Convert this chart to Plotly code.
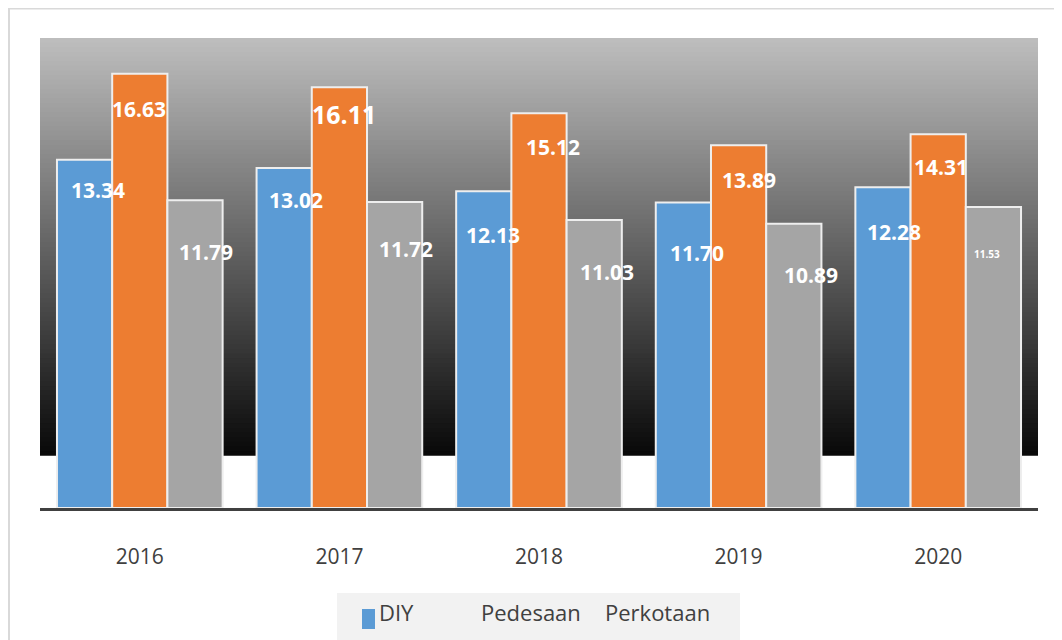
import plotly.graph_objects as go

years = ["2016", "2017", "2018", "2019", "2020"]
diy = [13.34, 13.02, 12.13, 11.70, 12.28]
pedesaan = [16.63, 16.11, 15.12, 13.89, 14.31]
perkotaan = [11.79, 11.72, 11.03, 10.89, 11.53]
series_names = ["DIY", "Pedesaan", "Perkotaan"]

colors = ["#5b9bd5", "#ed7d31", "#a5a5a5"]

# label style tweaks (pixel offsets and font sizes), kept separate from data
label_dx = [[13, 12, 9, 14, 11], [-1, 5, 14, 10, 3], [11, 11, 13, 17, -6]]
label_dy = [[30, 32, 44, 50, 45], [35, 27, 34, 35, 33], [52, 47, 52, 51, 47]]
label_size = [[21, 21, 21, 21, 21], [21, 25, 21, 21, 21], [21, 21, 21, 21, 10]]

FONT = "Open Sans"
W, H = 1054, 632          # page adds an 8px body margin
L, R, T, B = 32, 24, 30, 132
PW, PH = W - L - R, H - T - B
BARGAP = 0.17

def px_x(x):  # figure pixel -> paper x
    return (x - L) / PW

def px_y(y):  # figure pixel -> paper y
    return (H - B - y) / PH

pos = list(range(len(years)))
fig = go.Figure()
all_series = [diy, pedesaan, perkotaan]
for name, vals, c in zip(series_names, all_series, colors):
    fig.add_trace(go.Bar(
        x=pos, y=vals, name=name,
        marker=dict(color=c, line=dict(color="#eeeeee", width=2)),
        showlegend=False,
    ))

bar_w = (1 - BARGAP) / 3
annotations = []
for j, vals in enumerate(all_series):
    for i, v in enumerate(vals):
        annotations.append(dict(
            x=pos[i] + (j - 1) * bar_w, y=v, xref="x", yref="y",
            text=f"<b>{v:.2f}</b>", showarrow=False,
            xshift=label_dx[j][i], yshift=-label_dy[j][i],
            font=dict(family=FONT, size=label_size[j][i], color="white"),
        ))

# legend (custom)
for txt, px in zip(series_names, [369, 471, 595]):
    annotations.append(dict(
        x=px_x(px), y=px_y(604), xref="paper", yref="paper",
        text=txt, showarrow=False, xanchor="left", yanchor="middle",
        font=dict(family=FONT, size=22, color="#404040"),
    ))

shapes = []
# gradient background: gray at top to black at bottom (overlapping strips)
N = 90
ylo, yhi = 2.0, 18.0
step = (yhi - ylo) / N
top_c, bot_c = 190, 8
for k in range(N):
    y0 = ylo + step * k
    y1 = min(yhi, y0 + 2 * step)
    t = (k + 0.5) / N
    g = int(round(bot_c + (top_c - bot_c) * t))
    shapes.append(dict(type="rect", xref="paper", yref="y", x0=0, x1=1, y0=y0, y1=y1,
                       fillcolor=f"rgb({g},{g},{g})", line=dict(width=0), layer="below"))

# outer frame
shapes.append(dict(type="rect", xref="paper", yref="paper",
                   x0=px_x(1), x1=px_x(1070), y0=px_y(650), y1=px_y(0.5),
                   line=dict(color="#d9d9d9", width=2), fillcolor="rgba(0,0,0,0)", layer="below"))
# legend box
shapes.append(dict(type="rect", xref="paper", yref="paper",
                   x0=px_x(329), x1=px_x(732), y0=px_y(640), y1=px_y(585),
                   line=dict(width=0), fillcolor="#f2f2f2", layer="below"))
# legend marker for DIY
shapes.append(dict(type="rect", xref="paper", yref="paper",
                   x0=px_x(354), x1=px_x(367), y0=px_y(621), y1=px_y(601),
                   line=dict(width=0), fillcolor=colors[0], layer="above"))

fig.update_layout(
    width=W, height=H,
    margin=dict(l=L, r=R, t=T, b=B, autoexpand=False),
    paper_bgcolor="white", plot_bgcolor="white",
    barmode="group", bargap=BARGAP, bargroupgap=0,
    shapes=shapes, annotations=annotations,
    font=dict(family=FONT),
    xaxis=dict(range=[-0.5, len(years) - 0.5], tickvals=pos, ticktext=years,
               showline=True, linecolor="#404040", linewidth=3, showgrid=False, zeroline=False,
               ticks="outside", ticklen=28, tickcolor="rgba(0,0,0,0)",
               tickfont=dict(family=FONT, size=21, color="#404040")),
    yaxis=dict(range=[0, 18], visible=False, showgrid=False),
)

fig.write_html("out.html")
